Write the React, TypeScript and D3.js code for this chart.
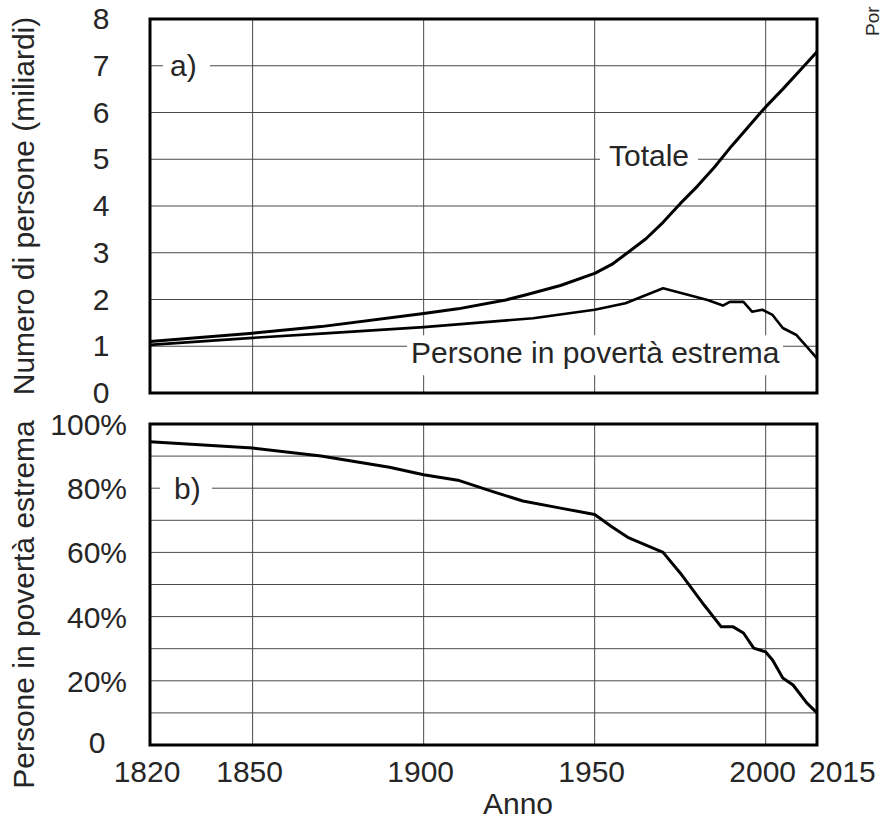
import React from 'react';
import * as d3 from 'd3';

// panel a: people (billions)
const totalYears = [1820, 1850, 1870, 1900, 1910, 1924, 1930, 1940, 1950, 1955, 1960, 1965, 1970, 1975, 1980, 1985, 1990, 1995, 2000, 2005, 2010, 2015];
const totalValues = [1.1, 1.28, 1.42, 1.7, 1.8, 1.99, 2.1, 2.3, 2.56, 2.75, 3.02, 3.3, 3.65, 4.05, 4.42, 4.83, 5.28, 5.7, 6.12, 6.5, 6.9, 7.3];

const poorYears = [1820, 1850, 1870, 1900, 1932, 1950, 1959, 1970, 1983, 1987.5, 1989.5, 1993.5, 1996, 1999, 2002, 2005, 2009, 2012, 2015];
const poorValues = [1.03, 1.18, 1.27, 1.41, 1.6, 1.78, 1.92, 2.24, 1.99, 1.87, 1.95, 1.95, 1.74, 1.78, 1.67, 1.39, 1.24, 0.99, 0.74];

// panel b: share in extreme poverty (%)
const shareYears = [1820, 1850, 1870, 1890, 1900, 1910, 1920, 1929, 1940, 1950, 1955, 1960, 1970, 1975, 1982, 1987, 1990.5, 1993.5, 1996.5, 2000, 2002, 2005, 2008, 2012, 2015];
const shareValues = [94.5, 92.5, 90, 86.5, 84.2, 82.5, 79, 76, 73.8, 71.8, 68, 64.5, 60, 53.6, 43.6, 36.8, 36.8, 34.9, 30.2, 29, 26.5, 20.9, 18.7, 13.1, 10];

const xTickYears = [1820, 1850, 1900, 1950, 2000, 2015];
const xGridYears = [1850, 1900, 1950, 2000];
const countTicks = [0, 1, 2, 3, 4, 5, 6, 7, 8];
const shareGrid = [10, 20, 30, 40, 50, 60, 70, 80, 90];
const shareTicks = [0, 20, 40, 60, 80, 100];

const W = 885;
const H = 821;
const LEFT = 150;
const RIGHT = 817;
const TOP_A = 19;
const BOT_A = 393;
const TOP_B = 424;
const BOT_B = 745;
const FONT = '"Liberation Sans", Arial, Helvetica, sans-serif';
const TEXT = '#262626';
const GRID = '#4a4a4a';

const zip = (xs: number[], ys: number[]) => xs.map((v, i) => [v, ys[i]] as [number, number]);

export default function App() {
  const x = d3.scaleLinear().domain([1820, 2015]).range([LEFT, RIGHT]);
  const yA = d3.scaleLinear().domain([0, 8]).range([BOT_A, TOP_A]);
  const yB = d3.scaleLinear().domain([0, 100]).range([BOT_B, TOP_B]);

  const lineA = d3.line<[number, number]>().x(d => x(d[0])).y(d => yA(d[1]));
  const lineB = d3.line<[number, number]>().x(d => x(d[0])).y(d => yB(d[1]));

  return (
    <svg width={W} height={H} style={{ position: 'absolute', left: 0, top: 0, background: '#fff' }}
      fontFamily={FONT}>
      {/* panel a grid */}
      {countTicks.filter(t => t > 0 && t < 8).map(t => (
        <line key={'ga' + t} x1={LEFT} x2={RIGHT} y1={yA(t)} y2={yA(t)} stroke={GRID} strokeWidth={1} />
      ))}
      {xGridYears.map(yr => (
        <line key={'va' + yr} x1={x(yr)} x2={x(yr)} y1={TOP_A} y2={BOT_A} stroke={GRID} strokeWidth={1} />
      ))}
      {/* panel b grid */}
      {shareGrid.map(t => (
        <line key={'gb' + t} x1={LEFT} x2={RIGHT} y1={yB(t)} y2={yB(t)} stroke={GRID} strokeWidth={1} />
      ))}
      {xGridYears.map(yr => (
        <line key={'vb' + yr} x1={x(yr)} x2={x(yr)} y1={TOP_B} y2={BOT_B} stroke={GRID} strokeWidth={1} />
      ))}

      {/* labels with white background over the grid */}
      <rect x={163} y={yA(7) - 16} width={47} height={32} fill="#fff" />
      <text x={170} y={yA(7) + 10} fontSize={30} fill={TEXT}>a)</text>
      <rect x={600} y={yA(5) - 18} width={98} height={36} fill="#fff" />
      <text x={609} y={yA(5) + 7} fontSize={30} fill={TEXT}>Totale</text>
      <rect x={407} y={yA(1) - 11} width={376} height={40} fill="#fff" />
      <text x={411} y={yA(1) + 17} fontSize={30} fill={TEXT}>Persone in povertà estrema</text>
      <rect x={160} y={yB(80) - 16} width={52} height={32} fill="#fff" />
      <text x={174} y={yB(80) + 11} fontSize={30} fill={TEXT}>b)</text>

      {/* data */}
      <path d={lineA(zip(totalYears, totalValues)) ?? ''} fill="none" stroke="#000" strokeWidth={3} strokeLinejoin="round" />
      <path d={lineA(zip(poorYears, poorValues)) ?? ''} fill="none" stroke="#000" strokeWidth={2.6} strokeLinejoin="round" />
      <path d={lineB(zip(shareYears, shareValues)) ?? ''} fill="none" stroke="#000" strokeWidth={3} strokeLinejoin="round" />

      {/* frames */}
      <rect x={LEFT} y={TOP_A} width={RIGHT - LEFT} height={BOT_A - TOP_A} fill="none" stroke="#000" strokeWidth={3} />
      <rect x={LEFT} y={TOP_B} width={RIGHT - LEFT} height={BOT_B - TOP_B} fill="none" stroke="#000" strokeWidth={3} />

      {/* y tick labels */}
      {countTicks.map(t => (
        <text key={'ta' + t} x={101} y={yA(t) + 10} fontSize={30} fill={TEXT} textAnchor="middle">{t}</text>
      ))}
      {shareTicks.map(t => (
        t === 0
          ? <text key={'tb' + t} x={97} y={yB(t) + 8} fontSize={30} fill={TEXT} textAnchor="middle">0</text>
          : <text key={'tb' + t} x={127} y={yB(t) + 11} fontSize={30} fill={TEXT} textAnchor="end">{t + '%'}</text>
      ))}

      {/* x tick labels */}
      {xTickYears.map(yr => (
        yr === 2015
          ? <text key={'x' + yr} x={809} y={782} fontSize={30} fill={TEXT} textAnchor="start">{yr}</text>
          : <text key={'x' + yr} x={x(yr) - 3} y={782} fontSize={30} fill={TEXT} textAnchor="middle">{yr}</text>
      ))}

      {/* axis titles */}
      <text x={518} y={814} fontSize={30} fill={TEXT} textAnchor="middle">Anno</text>
      <text transform={`translate(34,${(TOP_A + BOT_A) / 2}) rotate(-90)`} fontSize={30} fill={TEXT} textAnchor="middle">
        Numero di persone (miliardi)
      </text>
      <text transform={`translate(34,${(TOP_B + BOT_B) / 2 + 20}) rotate(-90)`} fontSize={30} fill={TEXT} textAnchor="middle">
        Persone in povertà estrema
      </text>
      <text transform="translate(879,36) rotate(-90)" fontSize={19} fill={TEXT} textAnchor="start">
        Por
      </text>
    </svg>
  );
}
